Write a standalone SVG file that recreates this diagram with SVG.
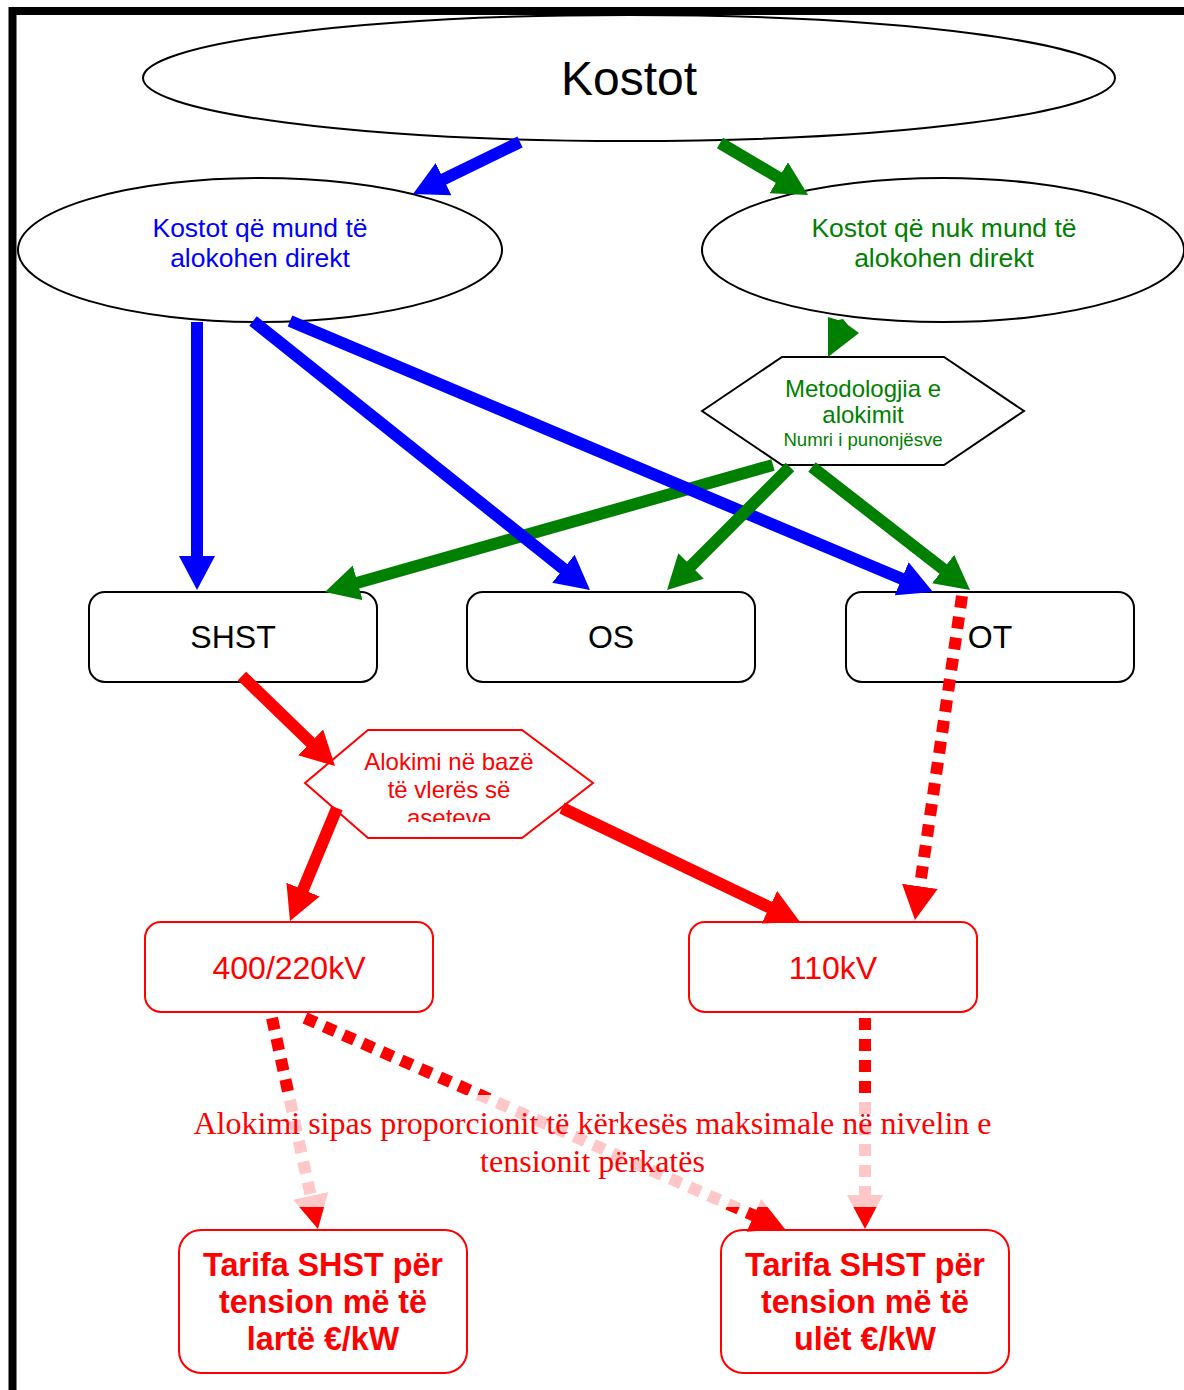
<svg xmlns="http://www.w3.org/2000/svg" width="1184" height="1390" viewBox="0 0 1184 1390">
<style>
.t{font-family:"Liberation Sans",Arial,sans-serif;text-anchor:middle}
.node{fill:#fff;stroke:#000;stroke-width:2}
.rnode{fill:#fff;stroke:#f00;stroke-width:2}
.b{stroke:#00f;stroke-width:12;fill:none;marker-end:url(#hb)}
.g{stroke:#008000;stroke-width:12;fill:none;marker-end:url(#hg)}
.r{stroke:#f00;stroke-width:12;fill:none;marker-end:url(#hr)}
.rd{stroke:#f00;stroke-width:12;fill:none;stroke-dasharray:12 9;marker-end:url(#hr)}
</style>
<defs>
<marker id="hb" viewBox="0 -18 34 36" refX="22" refY="0" markerWidth="34" markerHeight="36" markerUnits="userSpaceOnUse" orient="auto"><path d="M0,-18 L34,0 L0,18 Z" fill="#00f"/></marker>
<marker id="hg" viewBox="0 -18 34 36" refX="22" refY="0" markerWidth="34" markerHeight="36" markerUnits="userSpaceOnUse" orient="auto"><path d="M0,-18 L34,0 L0,18 Z" fill="#008000"/></marker>
<marker id="hr" viewBox="0 -18 34 36" refX="22" refY="0" markerWidth="34" markerHeight="36" markerUnits="userSpaceOnUse" orient="auto"><path d="M0,-18 L34,0 L0,18 Z" fill="#f00"/></marker>
<clipPath id="hexclip"><rect x="300" y="725" width="300" height="97"/></clipPath>
</defs>
<rect x="0" y="0" width="1184" height="1390" fill="#fff"/>
<rect x="12.5" y="11" width="1200" height="1420" fill="none" stroke="#000" stroke-width="8"/>

<g id="kostot">
<ellipse class="node" cx="629" cy="78" rx="486" ry="63" stroke-width="1.6"/>
<text class="t" x="629" y="95" font-size="48">Kostot</text>
</g>
<g id="direkt">
<ellipse class="node" cx="260" cy="250" rx="242" ry="72" stroke-width="1.6"/>
<text class="t" x="260" y="237" font-size="26.5" fill="#00f">Kostot që mund të</text>
<text class="t" x="260" y="267" font-size="26.5" fill="#00f">alokohen direkt</text>
</g>
<g id="jodirekt">
<ellipse class="node" cx="943" cy="250" rx="241" ry="72" stroke-width="1.6"/>
<text class="t" x="944" y="237" font-size="26.5" fill="#008000">Kostot që nuk mund të</text>
<text class="t" x="944" y="267" font-size="26.5" fill="#008000">alokohen direkt</text>
</g>
<g id="metodologjia">
<polygon class="node" stroke-width="1.6" points="702,411 782,357 944,357 1024,411 944,465 782,465"/>
<text class="t" x="863" y="397" font-size="24" fill="#008000">Metodologjia e</text>
<text class="t" x="863" y="423" font-size="24" fill="#008000">alokimit</text>
<text class="t" x="863" y="446" font-size="18.6" fill="#008000">Numri i punonjësve</text>
</g>
<g id="shst">
<rect class="node" x="89" y="592" width="288" height="90" rx="16"/>
<text class="t" x="233" y="648" font-size="32">SHST</text>
</g>
<g id="os">
<rect class="node" x="467" y="592" width="288" height="90" rx="16"/>
<text class="t" x="611" y="648" font-size="32">OS</text>
</g>
<g id="ot">
<rect class="node" x="846" y="592" width="288" height="90" rx="16"/>
<text class="t" x="990" y="648" font-size="32">OT</text>
</g>
<g id="aseteve">
<polygon class="rnode" stroke-width="1.6" points="305,783 368,730 522,730 593,783 522,838 368,838"/>
<g clip-path="url(#hexclip)" fill="#f00">
<text class="t" x="449" y="770" font-size="24">Alokimi në bazë</text>
<text class="t" x="449" y="798" font-size="24">të vlerës së</text>
<text class="t" x="449" y="826" font-size="24">aseteve</text>
</g>
</g>
<g id="kv400">
<rect class="rnode" x="145" y="922" width="288" height="90" rx="16"/>
<text class="t" x="289" y="978.5" font-size="32" fill="#f00">400/220kV</text>
</g>
<g id="kv110">
<rect class="rnode" x="689" y="922" width="288" height="90" rx="16"/>
<text class="t" x="833" y="978.5" font-size="32" fill="#f00">110kV</text>
</g>
<g id="tarifa-larte">
<rect class="rnode" x="179" y="1230" width="288" height="143" rx="22"/>
<text class="t" x="323" y="1276" font-size="32.3" font-weight="bold" fill="#f00">Tarifa SHST për</text>
<text class="t" x="323" y="1313" font-size="32.3" font-weight="bold" fill="#f00">tension më të</text>
<text class="t" x="323" y="1350" font-size="32.3" font-weight="bold" fill="#f00">lartë €/kW</text>
</g>
<g id="tarifa-ulet">
<rect class="rnode" x="721" y="1230" width="288" height="143" rx="22"/>
<text class="t" x="865" y="1276" font-size="32.3" font-weight="bold" fill="#f00">Tarifa SHST për</text>
<text class="t" x="865" y="1313" font-size="32.3" font-weight="bold" fill="#f00">tension më të</text>
<text class="t" x="865" y="1350" font-size="32.3" font-weight="bold" fill="#f00">ulët €/kW</text>
</g>

<g id="connectors">
<path class="b" d="M520,142 L423.8,188.8"/>
<path class="g" d="M720,143 L797.7,188.9"/>
<polygon fill="#008000" points="828,317 838,320 843,319 848,325 859,333 828,357"/>
<path class="b" d="M197,322 L197,578"/>
<path class="g" d="M773,465 L336.5,588.7"/>
<path class="b" d="M253,321 L580.6,582.5"/>
<path class="b" d="M290,321 L921.9,587.3"/>
<path class="g" d="M790,467 L675.5,581.5"/>
<path class="g" d="M812,467 L960.5,582.6"/>
<path class="r" d="M242,676 L326.4,757.7"/>
<path class="r" d="M337,808 L294.6,909.9"/>
<path class="r" d="M562,808 L789.2,916.8"/>
<path class="rd" d="M962,596 L916.7,908.1"/>
<path class="rd" d="M272,1018 L315.4,1217.3"/>
<path class="rd" d="M305,1018 L774,1224.2"/>
<path class="rd" d="M865,1018 L865,1217"/>
</g>

<g id="label">
<rect x="185" y="1095" width="815" height="112" fill="#fff" fill-opacity="0.78"/>
<text x="592.5" y="1134" font-family="'Liberation Serif','Times New Roman',serif" font-size="32" fill="#f00" text-anchor="middle">Alokimi sipas proporcionit të kërkesës maksimale në nivelin e</text>
<text x="592.5" y="1172" font-family="'Liberation Serif','Times New Roman',serif" font-size="32" fill="#f00" text-anchor="middle">tensionit përkatës</text>
</g>
</svg>
